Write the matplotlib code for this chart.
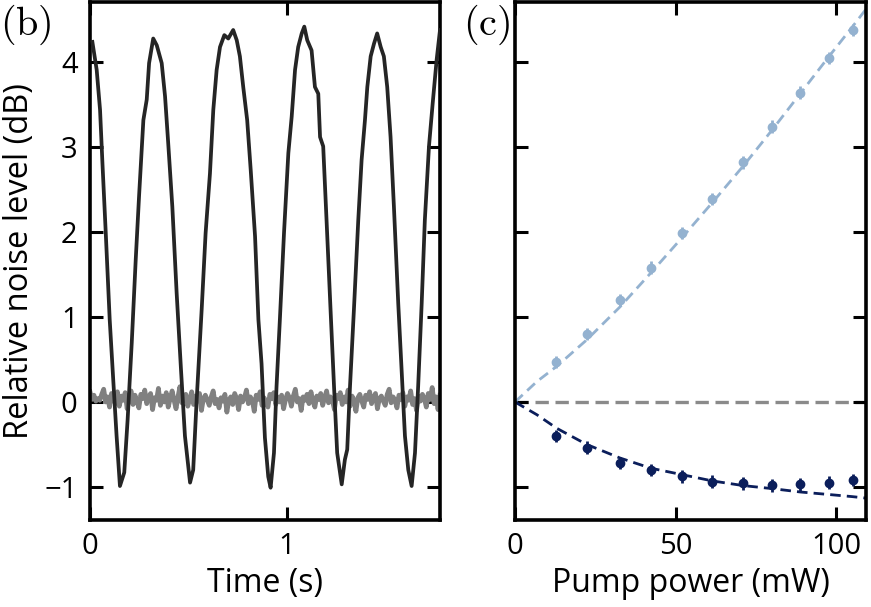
import numpy as np
import matplotlib
matplotlib.use("Agg")
import matplotlib.pyplot as plt

plt.rcParams['font.family'] = ['Open Sans', 'DejaVu Sans']
plt.rcParams['mathtext.fontset'] = 'cm'

# ---- panel (b): time traces ----
t_black = [0.012, 0.034, 0.051, 0.063, 0.080, 0.100, 0.118, 0.135, 0.152, 0.174, 0.191, 0.212,
           0.232, 0.249, 0.271, 0.288, 0.300, 0.321, 0.339, 0.364, 0.381, 0.397, 0.418, 0.440,
           0.462, 0.482, 0.508, 0.524, 0.541, 0.567, 0.587, 0.609, 0.626, 0.643, 0.660, 0.682,
           0.702, 0.727, 0.745, 0.761, 0.778, 0.798, 0.816, 0.838, 0.855, 0.871, 0.888, 0.905,
           0.917, 0.934, 0.947, 0.964, 0.985, 1.007, 1.024, 1.041, 1.057, 1.075, 1.088, 1.103,
           1.125, 1.142, 1.159, 1.168, 1.184, 1.201, 1.222, 1.239, 1.255, 1.278, 1.294, 1.306,
           1.320, 1.340, 1.362, 1.379, 1.396, 1.408, 1.425, 1.442, 1.458, 1.476, 1.492, 1.509,
           1.526, 1.543, 1.565, 1.582, 1.599, 1.616, 1.633, 1.650, 1.666, 1.684, 1.700, 1.721,
           1.740, 1.760, 1.777]
v_black = [4.24, 3.91, 3.44, 2.82, 1.99, 0.97, 0.26, -0.40, -0.99, -0.83, -0.21, 0.70,
           1.67, 2.42, 3.32, 3.56, 3.99, 4.28, 4.20, 3.99, 3.60, 3.05, 2.30, 1.28,
           0.38, -0.40, -0.95, -0.80, 0.00, 1.09, 1.99, 2.69, 3.44, 3.91, 4.18, 4.32,
           4.28, 4.38, 4.26, 4.07, 3.71, 3.32, 2.73, 1.95, 0.97, 0.45, -0.42, -0.88,
           -1.01, -0.60, 0.18, 0.97, 1.99, 2.93, 3.36, 3.91, 4.18, 4.34, 4.42, 4.26,
           4.14, 3.71, 3.63, 3.12, 3.01, 2.14, 1.05, 0.18, -0.60, -0.97, -0.68, -0.56,
           0.18, 1.09, 2.14, 2.85, 3.32, 3.71, 4.07, 4.22, 4.34, 4.18, 4.07, 3.71,
           3.12, 2.30, 1.16, 0.38, -0.40, -0.80, -0.99, -0.60, 0.18, 1.16, 2.14, 3.01,
           3.52, 4.03, 4.38]

v_gray = [0.12, 0.03, 0.08, 0.01, 0.04, 0.02, 0.09, 0.15, 0.00, 0.06, -0.06, 0.10, 0.03, -0.02, 0.12, -0.05, 0.07, 0.02, 0.11, -0.08,
          0.05, 0.13, -0.03, 0.08, 0.01, -0.07, 0.09, 0.04, 0.14, -0.02, 0.06, 0.10, -0.09, 0.05, 0.02, 0.16, -0.04, 0.07, 0.00, 0.11,
          -0.06, 0.04, 0.13, 0.02, -0.08, 0.06, 0.18, -0.01, 0.05, 0.09, -0.05, 0.03, 0.12, -0.03, 0.07, 0.01, 0.10, -0.10, 0.04, 0.08,
          0.02, -0.04, 0.06, 0.13, -0.02, 0.03, -0.07, 0.05, 0.01, 0.09, -0.12, 0.02, 0.06, -0.03, 0.10, 0.04, -0.09, 0.07, 0.00, 0.05,
          0.14, -0.02, 0.06, 0.02, -0.11, 0.08, 0.03, 0.12, -0.04, 0.05, 0.01, -0.06, 0.09, 0.04, 0.11, -0.03, 0.06, 0.00, 0.08, -0.08,
          0.03, 0.10, 0.05, -0.05, 0.07, 0.15, 0.00, 0.04, -0.10, 0.06, 0.02, 0.09, -0.02, 0.12, 0.01, -0.06, 0.07, 0.03, 0.10, -0.04,
          0.05, 0.13, -0.01, 0.06, 0.02, -0.09, 0.08, 0.04, 0.11, -0.03, 0.06, 0.00, 0.14, -0.05, 0.07, 0.02, -0.11, 0.05, 0.09, 0.01,
          -0.06, 0.08, 0.03, 0.12, -0.02, 0.05, 0.10, -0.08, 0.04, 0.07, 0.01, -0.04, 0.09, 0.15, -0.01, 0.06, 0.02, -0.07, 0.08, 0.03,
          0.11, -0.05, 0.06, 0.02, 0.13, -0.03, 0.04, -0.10, 0.07, 0.01, 0.09, 0.04, -0.06, 0.10, 0.03, 0.17, -0.02, 0.06, -0.09, 0.08]
t_gray_end = 1.777

# ---- panel (c): pump power dependence ----
power = [12.8, 22.4, 32.7, 42.3, 51.9, 61.5, 71.1, 80.0, 88.8, 97.8, 105.1]
anti_sq = [0.47, 0.80, 1.20, 1.58, 1.99, 2.39, 2.82, 3.24, 3.64, 4.05, 4.38]
squeez = [-0.40, -0.54, -0.72, -0.80, -0.875, -0.94, -0.96, -0.98, -0.97, -0.95, -0.92]
err = [0.075] * 11

fit_p = [0.0, 6.8, 13.0, 22.3, 32.7, 42.3, 51.9, 61.5, 71.1, 80.0, 88.8, 97.8, 105.1, 110.0]
fit_anti = [0.0, 0.24, 0.42, 0.73, 1.12, 1.52, 1.93, 2.35, 2.78, 3.20, 3.63, 4.07, 4.42, 4.66]
fit_sq = [0.0, -0.15, -0.31, -0.50, -0.66, -0.78, -0.855, -0.93, -0.985, -1.02, -1.06, -1.09, -1.115, -1.135]

light = '#94b2d0'
navy = '#0b1e5b'

fig = plt.figure(figsize=(8.71, 6.07), dpi=100)
ax1 = fig.add_axes([90/871, 1-520/607, 350/871, 518/607])
ax2 = fig.add_axes([515/871, 1-520/607, 351/871, 518/607])

t_gray = np.linspace(0, t_gray_end, len(v_gray))
ax1.plot(t_gray, v_gray, color='#808080', lw=3.4, zorder=2)
ax1.plot(t_black, v_black, color='#252525', lw=2.7, zorder=3)
ax1.set_xlim(0, 1.777)
ax1.set_xticks([0, 1])
ax1.set_xlabel('Time (s)', fontsize=23, labelpad=4)
ax1.set_ylabel('Relative noise level (dB)', fontsize=23.5, labelpad=6)

ax2.axhline(0, color='#8a8a8a', lw=2.4, dashes=(4, 2), zorder=1)
ax2.plot(fit_p, fit_anti, color=light, lw=2.0, dashes=(3.8, 2.2), zorder=2)
ax2.plot(fit_p, fit_sq, color=navy, lw=2.0, dashes=(3.8, 2.2), zorder=2)
ax2.errorbar(power, anti_sq, yerr=err, fmt='o', color=light, ms=6, elinewidth=2, capsize=0, zorder=3)
ax2.errorbar(power, squeez, yerr=err, fmt='o', color=navy, ms=6, elinewidth=2, capsize=0, zorder=3)
ax2.set_xlim(0, 109.3)
ax2.set_xticks([0, 50, 100])
ax2.set_xlabel('Pump power (mW)', fontsize=23, labelpad=4)

for ax in (ax1, ax2):
    ax.set_ylim(-1.39, 4.71)
    ax.set_yticks([-1, 0, 1, 2, 3, 4])
    ax.set_yticklabels(['\u22121', '0', '1', '2', '3', '4'])
    ax.tick_params(direction='in', top=True, right=True, length=9.5, width=2.2,
                   labelsize=21, pad=9)
    for s in ax.spines.values():
        s.set_linewidth(2.6)

ax2.tick_params(axis='y', labelleft=False)

fig.text(0.0, 0.995, r'$\mathrm{(b)}$', fontsize=29, va='top', ha='left')
fig.text(463/871, 0.995, r'$\mathrm{(c)}$', fontsize=29, va='top', ha='left')

fig.savefig('out.png', dpi=100)
